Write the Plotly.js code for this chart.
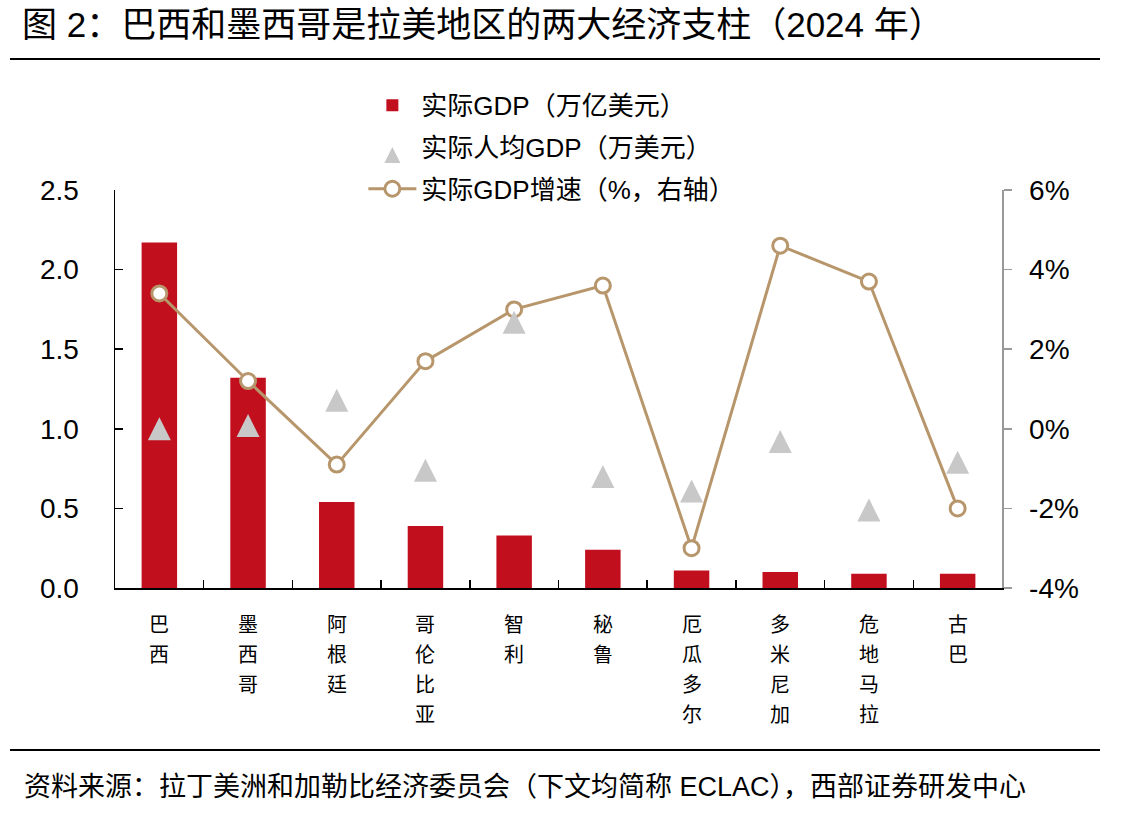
<!DOCTYPE html>
<html>
<head>
<meta charset="utf-8">
<script src="https://cdn.plot.ly/plotly-3.0.1.min.js"></script>
<style>html,body{margin:0;padding:0;background:#fff;}#chart{width:1144px;height:818px;}</style>
</head>
<body>
<div id="chart"></div>
<script>
const categories = ['巴西','墨西哥','阿根廷','哥伦比亚','智利','秘鲁','厄瓜多尔','多米尼加','危地马拉','古巴'];
const gdp = [2.17, 1.32, 0.54, 0.39, 0.33, 0.24, 0.11, 0.10, 0.09, 0.09];
const gdpPerCapita = [1.00, 1.02, 1.18, 0.74, 1.67, 0.70, 0.61, 0.92, 0.49, 0.79];
const gdpGrowth = [3.4, 1.2, -0.9, 1.7, 3.0, 3.6, -3.0, 4.6, 3.7, -2.0];
const leftTicks = [0, 0.5, 1.0, 1.5, 2.0, 2.5];
const leftTickText = ['0.0','0.5','1.0','1.5','2.0','2.5'];
const rightTicks = [-4, -2, 0, 2, 4, 6];
const rightTickText = ['-4%','-2%','0%','2%','4%','6%'];

const FONT = 'Liberation Sans, Arial, Noto Sans CJK SC, sans-serif';
const CJK = 'Noto Sans CJK SC, Liberation Sans, sans-serif';

const PLOT_TOP = 190, PLOT_BOTTOM = 588, PLOT_H = PLOT_BOTTOM - PLOT_TOP;
const toPaperY = py => (PLOT_BOTTOM - py) / PLOT_H;

const traces = [
  {
    type: 'bar', name: '实际GDP（万亿美元）', legendgroup: 'a',
    x: categories, y: gdp,
    marker: {color: '#C20F1E'},
    yaxis: 'y'
  },
  {
    type: 'scatter', mode: 'markers', name: '实际人均GDP（万美元）', legendgroup: 'b',
    x: categories, y: gdpPerCapita,
    marker: {symbol: 'arrow-up', size: 23, color: '#C8C8C8'},
    yaxis: 'y3'
  },
  {
    type: 'scatter', mode: 'lines+markers', name: '实际GDP增速（%，右轴）', legendgroup: 'c',
    x: categories, y: gdpGrowth,
    line: {color: '#B8966C', width: 3},
    marker: {symbol: 'circle', size: 15, color: '#FFFFFF', line: {color: '#B8966C', width: 3}},
    yaxis: 'y2'
  }
];

const pxPerUnit = PLOT_H / 2.5;
const shift = 11.5 / pxPerUnit;

// vertical category labels: one text per character, stacked under each category
const labelAnnotations = [];
categories.forEach(c => {
  c.split('').forEach((ch, i) => {
    labelAnnotations.push({
      text: ch, xref: 'x', yref: 'paper', x: c, y: toPaperY(623 + 30 * i),
      xanchor: 'center', yanchor: 'middle', showarrow: false,
      font: {family: CJK, size: 20, color: '#000'}
    });
  });
});

const layout = {
  width: 1144, height: 818,
  margin: {l: 115, r: 142, t: 190, b: 230},
  paper_bgcolor: '#fff', plot_bgcolor: '#fff',
  font: {family: FONT, color: '#000'},
  showlegend: true,
  bargap: 0.6,
  title: {
    text: '图 2：巴西和墨西哥是拉美地区的两大经济支柱（2024 年）',
    x: 22/1144, xanchor: 'left', y: 1 - 25/818, yanchor: 'middle',
    font: {family: FONT, size: 35, color: '#000'}
  },
  legend: {
    x: 0.28, y: 1.272, xanchor: 'left', yanchor: 'top',
    font: {family: FONT, size: 26, color: '#000'},
    bgcolor: 'rgba(0,0,0,0)', traceorder: 'grouped', tracegroupgap: 5,
    itemwidth: 48
  },
  xaxis: {
    type: 'category', range: [-0.5, 9.5],
    tickmode: 'array', tickvals: categories, showticklabels: false,
    ticks: 'inside', tickson: 'boundaries', ticklen: 8, tickcolor: '#000', tickwidth: 1.5,
    showline: true, linecolor: '#000', linewidth: 1.5,
    showgrid: false, zeroline: false,
    fixedrange: true
  },
  yaxis: {
    range: [0, 2.5],
    tickmode: 'array', tickvals: leftTicks, ticktext: leftTickText,
    ticks: 'inside', ticklen: 8, tickcolor: '#000', tickwidth: 1.5,
    showline: true, linecolor: '#000', linewidth: 1.5,
    showgrid: false, zeroline: false,
    tickfont: {family: FONT, size: 28, color: '#000'},
    ticklabelstandoff: 29
  },
  yaxis2: {
    overlaying: 'y', side: 'right',
    range: [-4, 6],
    tickmode: 'array', tickvals: rightTicks, ticktext: rightTickText,
    ticks: 'outside', ticklen: 8, tickcolor: '#999', tickwidth: 1.5,
    showline: true, linecolor: '#999', linewidth: 1.5,
    showgrid: false, zeroline: false,
    tickfont: {family: FONT, size: 28, color: '#000'},
    ticklabelstandoff: 12
  },
  yaxis3: {
    overlaying: 'y', range: [-shift, 2.5 - shift], visible: false
  },
  shapes: [
    {type: 'line', xref: 'paper', yref: 'paper', x0: (10-115)/887, x1: (1100-115)/887, y0: toPaperY(59), y1: toPaperY(59), line: {color: '#000', width: 2}},
    {type: 'line', xref: 'paper', yref: 'paper', x0: (10-115)/887, x1: (1100-115)/887, y0: toPaperY(750), y1: toPaperY(750), line: {color: '#000', width: 2}}
  ],
  annotations: labelAnnotations.concat([
    {
      text: '资料来源：拉丁美洲和加勒比经济委员会（下文均简称 ECLAC），西部证券研发中心',
      xref: 'paper', yref: 'paper', x: (22-115)/887, y: toPaperY(787),
      xanchor: 'left', yanchor: 'middle', showarrow: false,
      font: {family: FONT, size: 27, color: '#000'}
    }
  ])
};

Plotly.newPlot('chart', traces, layout, {displayModeBar: false, staticPlot: true});
</script>
</body>
</html>
